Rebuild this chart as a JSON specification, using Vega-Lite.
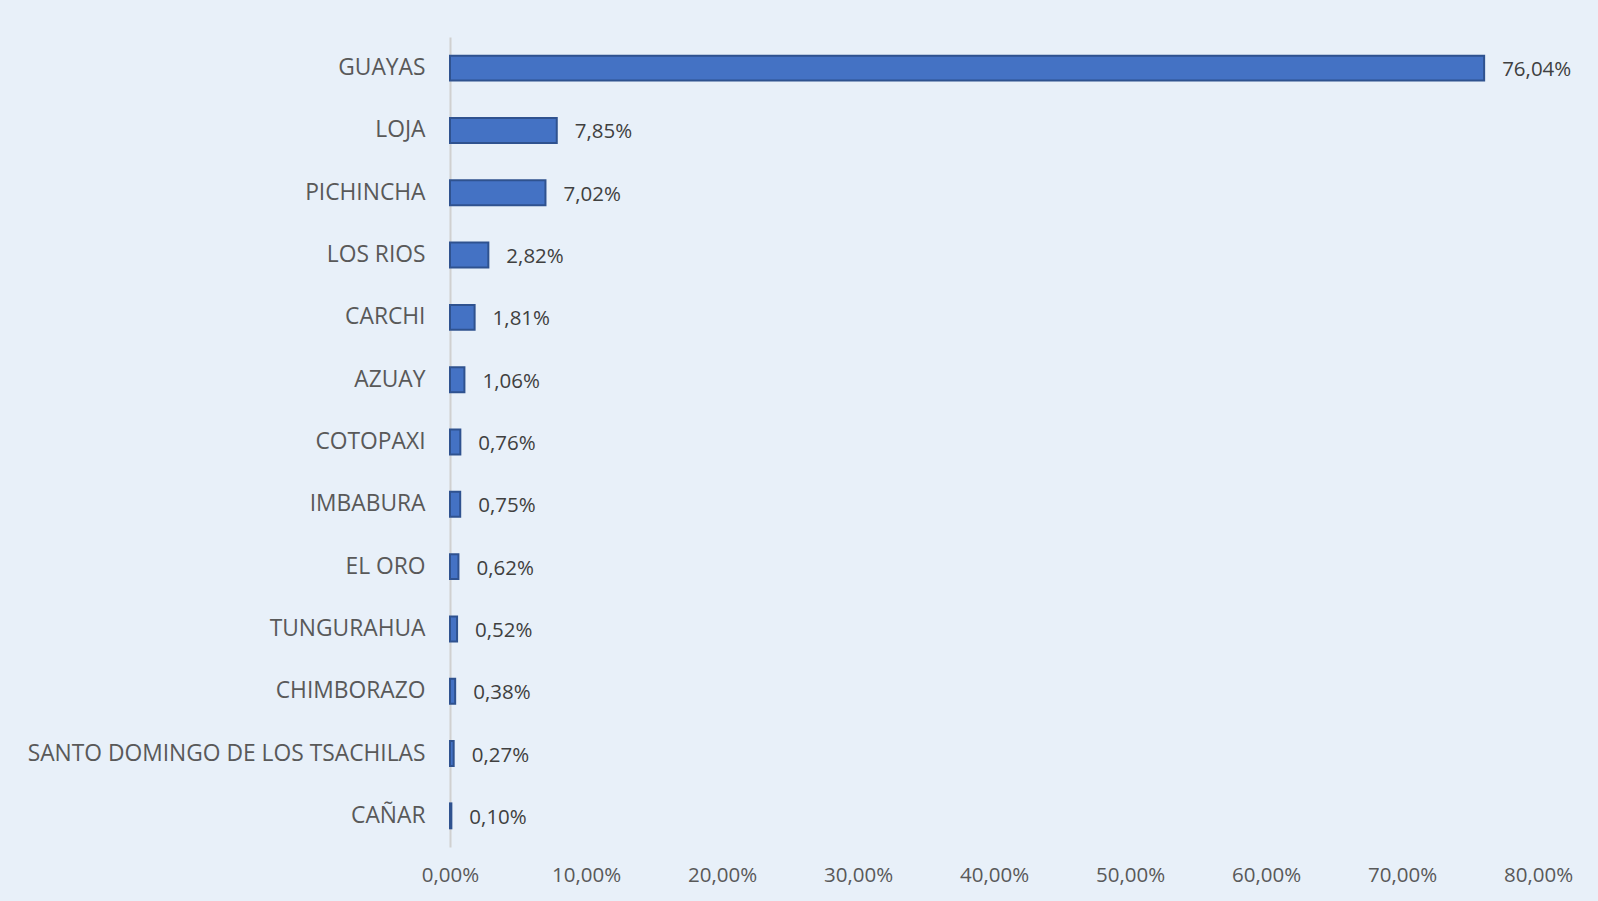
{
  "$schema": "https://vega.github.io/schema/vega-lite/v6.json",
  "width": 1088,
  "height": 810,
  "autosize": {"type": "none"},
  "padding": {"left": 450, "top": 37, "right": 60, "bottom": 54},
  "background": "#E8F0F9",
  "config": {
    "view": {"stroke": null},
    "locale": {"number": {"decimal": ",", "thousands": ".", "grouping": [3], "currency": ["", " €"]}},
    "font": "Open Sans"
  },
  "data": {
    "values": [
      {"provincia": "GUAYAS", "pct": 0.7604},
      {"provincia": "LOJA", "pct": 0.0785},
      {"provincia": "PICHINCHA", "pct": 0.0702},
      {"provincia": "LOS RIOS", "pct": 0.0282},
      {"provincia": "CARCHI", "pct": 0.0181},
      {"provincia": "AZUAY", "pct": 0.0106},
      {"provincia": "COTOPAXI", "pct": 0.0076},
      {"provincia": "IMBABURA", "pct": 0.0075},
      {"provincia": "EL ORO", "pct": 0.0062},
      {"provincia": "TUNGURAHUA", "pct": 0.0052},
      {"provincia": "CHIMBORAZO", "pct": 0.0038},
      {"provincia": "SANTO DOMINGO DE LOS TSACHILAS", "pct": 0.0027},
      {"provincia": "CAÑAR", "pct": 0.0010}
    ]
  },
  "encoding": {
    "y": {
      "field": "provincia",
      "type": "nominal",
      "sort": null,
      "scale": {"paddingInner": 0.6, "paddingOuter": 0.3},
      "axis": {
        "title": null,
        "ticks": false,
        "domainColor": "#D0D0D0",
        "domainWidth": 2,
        "labelFontSize": 22.8,
        "labelColor": "#595959",
        "labelPadding": 25,
        "labelLimit": 0,
        "labelFont": "Open Sans"
      }
    },
    "x": {
      "field": "pct",
      "type": "quantitative",
      "scale": {"domain": [0, 0.8], "nice": false},
      "axis": {
        "title": null,
        "format": ".2%",
        "values": [0, 0.1, 0.2, 0.3, 0.4, 0.5, 0.6, 0.7, 0.8],
        "grid": false,
        "ticks": false,
        "domain": false,
        "labelFlush": false,
        "labelFontSize": 20.5,
        "labelColor": "#595959",
        "labelPadding": 18,
        "labelFont": "Open Sans"
      }
    }
  },
  "layer": [
    {
      "mark": {"type": "bar", "fill": "#4472C4", "stroke": "#2F528F", "strokeWidth": 2}
    },
    {
      "mark": {"type": "text", "align": "left", "baseline": "middle", "dx": 18, "dy": 2, "fontSize": 20.5, "color": "#404040", "font": "Open Sans"},
      "encoding": {
        "text": {"field": "pct", "type": "quantitative", "format": ".2%"}
      }
    }
  ]
}
